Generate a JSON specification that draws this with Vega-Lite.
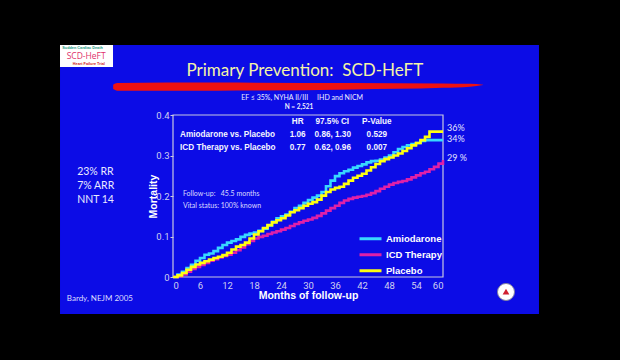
{
  "$schema": "https://vega.github.io/schema/vega-lite/v6.json",
  "width": 270,
  "height": 162,
  "autosize": {"type": "none"},
  "padding": {"left": 173, "top": 115, "right": 177, "bottom": 83},
  "background": "black",
  "config": {
    "view": {"stroke": null, "fill": null},
    "text": {"font": "Liberation Sans"}
  },
  "datasets": {
    "curves": [
      {"month": 0, "mortality": 0, "group": "Amiodarone"},
      {"month": 1, "mortality": 0.006, "group": "Amiodarone"},
      {"month": 2, "mortality": 0.013, "group": "Amiodarone"},
      {"month": 3, "mortality": 0.022, "group": "Amiodarone"},
      {"month": 4, "mortality": 0.03, "group": "Amiodarone"},
      {"month": 5, "mortality": 0.04, "group": "Amiodarone"},
      {"month": 6, "mortality": 0.047, "group": "Amiodarone"},
      {"month": 7, "mortality": 0.055, "group": "Amiodarone"},
      {"month": 8, "mortality": 0.058, "group": "Amiodarone"},
      {"month": 9, "mortality": 0.064, "group": "Amiodarone"},
      {"month": 10, "mortality": 0.072, "group": "Amiodarone"},
      {"month": 11, "mortality": 0.079, "group": "Amiodarone"},
      {"month": 12, "mortality": 0.085, "group": "Amiodarone"},
      {"month": 13, "mortality": 0.089, "group": "Amiodarone"},
      {"month": 14, "mortality": 0.093, "group": "Amiodarone"},
      {"month": 15, "mortality": 0.099, "group": "Amiodarone"},
      {"month": 16, "mortality": 0.104, "group": "Amiodarone"},
      {"month": 17, "mortality": 0.107, "group": "Amiodarone"},
      {"month": 18, "mortality": 0.11, "group": "Amiodarone"},
      {"month": 19, "mortality": 0.114, "group": "Amiodarone"},
      {"month": 20, "mortality": 0.119, "group": "Amiodarone"},
      {"month": 21, "mortality": 0.127, "group": "Amiodarone"},
      {"month": 22, "mortality": 0.136, "group": "Amiodarone"},
      {"month": 23, "mortality": 0.145, "group": "Amiodarone"},
      {"month": 24, "mortality": 0.15, "group": "Amiodarone"},
      {"month": 25, "mortality": 0.154, "group": "Amiodarone"},
      {"month": 26, "mortality": 0.161, "group": "Amiodarone"},
      {"month": 27, "mortality": 0.17, "group": "Amiodarone"},
      {"month": 28, "mortality": 0.176, "group": "Amiodarone"},
      {"month": 29, "mortality": 0.183, "group": "Amiodarone"},
      {"month": 30, "mortality": 0.19, "group": "Amiodarone"},
      {"month": 31, "mortality": 0.196, "group": "Amiodarone"},
      {"month": 32, "mortality": 0.201, "group": "Amiodarone"},
      {"month": 33, "mortality": 0.21, "group": "Amiodarone"},
      {"month": 34, "mortality": 0.224, "group": "Amiodarone"},
      {"month": 35, "mortality": 0.238, "group": "Amiodarone"},
      {"month": 36, "mortality": 0.249, "group": "Amiodarone"},
      {"month": 37, "mortality": 0.256, "group": "Amiodarone"},
      {"month": 38, "mortality": 0.261, "group": "Amiodarone"},
      {"month": 39, "mortality": 0.265, "group": "Amiodarone"},
      {"month": 40, "mortality": 0.27, "group": "Amiodarone"},
      {"month": 41, "mortality": 0.274, "group": "Amiodarone"},
      {"month": 42, "mortality": 0.278, "group": "Amiodarone"},
      {"month": 43, "mortality": 0.283, "group": "Amiodarone"},
      {"month": 44, "mortality": 0.286, "group": "Amiodarone"},
      {"month": 45, "mortality": 0.287, "group": "Amiodarone"},
      {"month": 46, "mortality": 0.29, "group": "Amiodarone"},
      {"month": 47, "mortality": 0.295, "group": "Amiodarone"},
      {"month": 48, "mortality": 0.3, "group": "Amiodarone"},
      {"month": 49, "mortality": 0.308, "group": "Amiodarone"},
      {"month": 50, "mortality": 0.316, "group": "Amiodarone"},
      {"month": 51, "mortality": 0.321, "group": "Amiodarone"},
      {"month": 52, "mortality": 0.325, "group": "Amiodarone"},
      {"month": 53, "mortality": 0.328, "group": "Amiodarone"},
      {"month": 54, "mortality": 0.331, "group": "Amiodarone"},
      {"month": 55, "mortality": 0.336, "group": "Amiodarone"},
      {"month": 56, "mortality": 0.338, "group": "Amiodarone"},
      {"month": 60, "mortality": 0.338, "group": "Amiodarone"},
      {"month": 0, "mortality": 0, "group": "ICD Therapy"},
      {"month": 1, "mortality": 0.002, "group": "ICD Therapy"},
      {"month": 2, "mortality": 0.006, "group": "ICD Therapy"},
      {"month": 3, "mortality": 0.013, "group": "ICD Therapy"},
      {"month": 4, "mortality": 0.02, "group": "ICD Therapy"},
      {"month": 5, "mortality": 0.025, "group": "ICD Therapy"},
      {"month": 6, "mortality": 0.03, "group": "ICD Therapy"},
      {"month": 7, "mortality": 0.035, "group": "ICD Therapy"},
      {"month": 8, "mortality": 0.04, "group": "ICD Therapy"},
      {"month": 9, "mortality": 0.044, "group": "ICD Therapy"},
      {"month": 10, "mortality": 0.048, "group": "ICD Therapy"},
      {"month": 11, "mortality": 0.052, "group": "ICD Therapy"},
      {"month": 12, "mortality": 0.055, "group": "ICD Therapy"},
      {"month": 13, "mortality": 0.06, "group": "ICD Therapy"},
      {"month": 14, "mortality": 0.066, "group": "ICD Therapy"},
      {"month": 15, "mortality": 0.073, "group": "ICD Therapy"},
      {"month": 16, "mortality": 0.081, "group": "ICD Therapy"},
      {"month": 17, "mortality": 0.089, "group": "ICD Therapy"},
      {"month": 18, "mortality": 0.095, "group": "ICD Therapy"},
      {"month": 19, "mortality": 0.099, "group": "ICD Therapy"},
      {"month": 20, "mortality": 0.102, "group": "ICD Therapy"},
      {"month": 21, "mortality": 0.106, "group": "ICD Therapy"},
      {"month": 22, "mortality": 0.11, "group": "ICD Therapy"},
      {"month": 23, "mortality": 0.113, "group": "ICD Therapy"},
      {"month": 24, "mortality": 0.117, "group": "ICD Therapy"},
      {"month": 25, "mortality": 0.121, "group": "ICD Therapy"},
      {"month": 26, "mortality": 0.126, "group": "ICD Therapy"},
      {"month": 27, "mortality": 0.131, "group": "ICD Therapy"},
      {"month": 28, "mortality": 0.135, "group": "ICD Therapy"},
      {"month": 29, "mortality": 0.139, "group": "ICD Therapy"},
      {"month": 30, "mortality": 0.142, "group": "ICD Therapy"},
      {"month": 31, "mortality": 0.146, "group": "ICD Therapy"},
      {"month": 32, "mortality": 0.151, "group": "ICD Therapy"},
      {"month": 33, "mortality": 0.157, "group": "ICD Therapy"},
      {"month": 34, "mortality": 0.164, "group": "ICD Therapy"},
      {"month": 35, "mortality": 0.17, "group": "ICD Therapy"},
      {"month": 36, "mortality": 0.176, "group": "ICD Therapy"},
      {"month": 37, "mortality": 0.183, "group": "ICD Therapy"},
      {"month": 38, "mortality": 0.189, "group": "ICD Therapy"},
      {"month": 39, "mortality": 0.193, "group": "ICD Therapy"},
      {"month": 40, "mortality": 0.196, "group": "ICD Therapy"},
      {"month": 41, "mortality": 0.198, "group": "ICD Therapy"},
      {"month": 42, "mortality": 0.2, "group": "ICD Therapy"},
      {"month": 43, "mortality": 0.203, "group": "ICD Therapy"},
      {"month": 44, "mortality": 0.207, "group": "ICD Therapy"},
      {"month": 45, "mortality": 0.212, "group": "ICD Therapy"},
      {"month": 46, "mortality": 0.218, "group": "ICD Therapy"},
      {"month": 47, "mortality": 0.223, "group": "ICD Therapy"},
      {"month": 48, "mortality": 0.228, "group": "ICD Therapy"},
      {"month": 49, "mortality": 0.232, "group": "ICD Therapy"},
      {"month": 50, "mortality": 0.235, "group": "ICD Therapy"},
      {"month": 51, "mortality": 0.237, "group": "ICD Therapy"},
      {"month": 52, "mortality": 0.241, "group": "ICD Therapy"},
      {"month": 53, "mortality": 0.246, "group": "ICD Therapy"},
      {"month": 54, "mortality": 0.251, "group": "ICD Therapy"},
      {"month": 55, "mortality": 0.256, "group": "ICD Therapy"},
      {"month": 56, "mortality": 0.26, "group": "ICD Therapy"},
      {"month": 57, "mortality": 0.266, "group": "ICD Therapy"},
      {"month": 58, "mortality": 0.272, "group": "ICD Therapy"},
      {"month": 59, "mortality": 0.28, "group": "ICD Therapy"},
      {"month": 60, "mortality": 0.289, "group": "ICD Therapy"},
      {"month": 0, "mortality": 0, "group": "Placebo"},
      {"month": 1, "mortality": 0.004, "group": "Placebo"},
      {"month": 2, "mortality": 0.01, "group": "Placebo"},
      {"month": 3, "mortality": 0.018, "group": "Placebo"},
      {"month": 4, "mortality": 0.025, "group": "Placebo"},
      {"month": 5, "mortality": 0.031, "group": "Placebo"},
      {"month": 6, "mortality": 0.035, "group": "Placebo"},
      {"month": 7, "mortality": 0.039, "group": "Placebo"},
      {"month": 8, "mortality": 0.043, "group": "Placebo"},
      {"month": 9, "mortality": 0.047, "group": "Placebo"},
      {"month": 10, "mortality": 0.05, "group": "Placebo"},
      {"month": 11, "mortality": 0.054, "group": "Placebo"},
      {"month": 12, "mortality": 0.06, "group": "Placebo"},
      {"month": 13, "mortality": 0.068, "group": "Placebo"},
      {"month": 14, "mortality": 0.075, "group": "Placebo"},
      {"month": 15, "mortality": 0.079, "group": "Placebo"},
      {"month": 16, "mortality": 0.085, "group": "Placebo"},
      {"month": 17, "mortality": 0.095, "group": "Placebo"},
      {"month": 18, "mortality": 0.105, "group": "Placebo"},
      {"month": 19, "mortality": 0.113, "group": "Placebo"},
      {"month": 20, "mortality": 0.121, "group": "Placebo"},
      {"month": 21, "mortality": 0.128, "group": "Placebo"},
      {"month": 22, "mortality": 0.135, "group": "Placebo"},
      {"month": 23, "mortality": 0.14, "group": "Placebo"},
      {"month": 24, "mortality": 0.145, "group": "Placebo"},
      {"month": 25, "mortality": 0.152, "group": "Placebo"},
      {"month": 26, "mortality": 0.16, "group": "Placebo"},
      {"month": 27, "mortality": 0.165, "group": "Placebo"},
      {"month": 28, "mortality": 0.17, "group": "Placebo"},
      {"month": 29, "mortality": 0.176, "group": "Placebo"},
      {"month": 30, "mortality": 0.181, "group": "Placebo"},
      {"month": 31, "mortality": 0.185, "group": "Placebo"},
      {"month": 32, "mortality": 0.191, "group": "Placebo"},
      {"month": 33, "mortality": 0.201, "group": "Placebo"},
      {"month": 34, "mortality": 0.21, "group": "Placebo"},
      {"month": 35, "mortality": 0.216, "group": "Placebo"},
      {"month": 36, "mortality": 0.22, "group": "Placebo"},
      {"month": 37, "mortality": 0.223, "group": "Placebo"},
      {"month": 38, "mortality": 0.23, "group": "Placebo"},
      {"month": 39, "mortality": 0.238, "group": "Placebo"},
      {"month": 40, "mortality": 0.245, "group": "Placebo"},
      {"month": 41, "mortality": 0.25, "group": "Placebo"},
      {"month": 42, "mortality": 0.255, "group": "Placebo"},
      {"month": 43, "mortality": 0.263, "group": "Placebo"},
      {"month": 44, "mortality": 0.271, "group": "Placebo"},
      {"month": 45, "mortality": 0.279, "group": "Placebo"},
      {"month": 46, "mortality": 0.286, "group": "Placebo"},
      {"month": 47, "mortality": 0.291, "group": "Placebo"},
      {"month": 48, "mortality": 0.295, "group": "Placebo"},
      {"month": 49, "mortality": 0.3, "group": "Placebo"},
      {"month": 50, "mortality": 0.305, "group": "Placebo"},
      {"month": 51, "mortality": 0.311, "group": "Placebo"},
      {"month": 52, "mortality": 0.318, "group": "Placebo"},
      {"month": 53, "mortality": 0.325, "group": "Placebo"},
      {"month": 54, "mortality": 0.331, "group": "Placebo"},
      {"month": 55, "mortality": 0.338, "group": "Placebo"},
      {"month": 56, "mortality": 0.346, "group": "Placebo"},
      {"month": 57, "mortality": 0.359, "group": "Placebo"},
      {"month": 60, "mortality": 0.359, "group": "Placebo"}
    ]
  },
  "encoding": {
    "x": {"field": "month", "type": "quantitative", "scale": {"domain": [0, 60], "nice": false, "zero": false},
      "axis": {"title": "Months of follow-up", "values": [0, 6, 12, 18, 24, 30, 36, 42, 48, 54, 60], "grid": false, "domain": false, "ticks": false,
        "labelFont": "Roboto", "labelFontSize": 9.5, "labelColor": "#d0d0f0", "labelPadding": 3,
        "titleFont": "Liberation Sans", "titleFontWeight": "bold", "titleFontSize": 10.5, "titleColor": "white", "titlePadding": 1, "zindex": 1}},
    "y": {"field": "mortality", "type": "quantitative", "scale": {"domain": [0, 0.4], "nice": false, "zero": false},
      "axis": {"title": "Mortality", "values": [0, 0.1, 0.2, 0.3, 0.4], "format": ".1~f", "grid": false, "domain": false, "tickSize": 3, "tickColor": "#c8c8e0",
        "labelFont": "Roboto", "labelFontSize": 9.5, "labelColor": "#d0d0f0", "labelPadding": 1,
        "titleFont": "Liberation Sans", "titleFontWeight": "bold", "titleFontSize": 10.5, "titleColor": "white", "titlePadding": -3, "zindex": 1}}
  },
  "layer": [
    {
      "data": {"values": [{"month": -25.11, "month2": 81.33, "mortality": -0.0914, "mortality2": 0.5728}]},
      "mark": {"type": "rect", "fill": "#0c0ce6"},
      "encoding": {"x2": {"field": "month2"}, "y2": {"field": "mortality2"}}
    },
    {
      "data": {"values": [
        {"month": -13.3, "mortality": 0.475, "mortality2": 0.464},
        {"month": -12.4, "mortality": 0.479, "mortality2": 0.46},
        {"month": 10, "mortality": 0.48, "mortality2": 0.46},
        {"month": 40, "mortality": 0.479, "mortality2": 0.463},
        {"month": 60, "mortality": 0.478, "mortality2": 0.467},
        {"month": 66, "mortality": 0.477, "mortality2": 0.47},
        {"month": 68.9, "mortality": 0.475, "mortality2": 0.474}
      ]},
      "mark": {"type": "area", "fill": "#ee1111", "interpolate": "monotone"},
      "encoding": {"y2": {"field": "mortality2"}}
    },
    {
      "data": {"values": [{"month": -25.11, "month2": -13.33, "mortality": 0.5185, "mortality2": 0.5728}]},
      "mark": {"type": "rect", "fill": "white"},
      "encoding": {"x2": {"field": "month2"}, "y2": {"field": "mortality2"}}
    },
    {
      "data": {"values": [{"month": -20.1, "mortality": 0.5655, "label": "Sudden Cardiac Death"}]},
      "mark": {"type": "text", "fontSize": 3.8, "fontWeight": "bold", "color": "#1a9a80", "align": "center", "baseline": "middle"},
      "encoding": {"text": {"field": "label"}}
    },
    {
      "data": {"values": [{"month": -19.3, "mortality": 0.5465, "label": "SCD-HeFT"}]},
      "mark": {"type": "text", "font": "Open Sans", "fontSize": 8.5, "color": "#e0306a", "align": "center", "baseline": "middle"},
      "encoding": {"text": {"field": "label"}}
    },
    {
      "data": {"values": [{"month": -18.7, "mortality": 0.5255, "label": "Heart Failure Trial"}]},
      "mark": {"type": "text", "fontSize": 3.8, "fontWeight": "bold", "color": "#d02020", "align": "center", "baseline": "middle"},
      "encoding": {"text": {"field": "label"}}
    },
    {
      "data": {"values": [{"month": 29.3, "mortality": 0.496, "label": "Primary Prevention:\u00a0\u00a0SCD-HeFT"}]},
      "mark": {"type": "text", "font": "Lato", "fontSize": 17, "color": "#f4f4a6", "align": "center", "baseline": "alphabetic"},
      "encoding": {"text": {"field": "label"}}
    },
    {
      "data": {"values": [{"month": 28.7, "mortality": 0.4415, "label": "EF \u2264 35%, NYHA II/III\u00a0\u00a0\u00a0\u00a0\u00a0IHD and NICM"}]},
      "mark": {"type": "text", "font": "Lato", "fontSize": 7, "color": "#f0f0ff", "align": "center", "baseline": "middle"},
      "encoding": {"text": {"field": "label"}}
    },
    {
      "data": {"values": [{"month": 28, "mortality": 0.4195, "label": "N = 2,521"}]},
      "mark": {"type": "text", "font": "Lato", "fontSize": 6.5, "fontWeight": "bold", "color": "#f0f0ff", "align": "center", "baseline": "middle"},
      "encoding": {"text": {"field": "label"}}
    },
    {
      "data": {"values": [
        {"month": -21.3, "mortality": 0.259, "label": "23% RR"},
        {"month": -21.3, "mortality": 0.224, "label": "7% ARR"},
        {"month": -21.3, "mortality": 0.19, "label": "NNT 14"}
      ]},
      "mark": {"type": "text", "font": "Lato", "fontSize": 10.5, "color": "#eaeaff", "align": "left", "baseline": "middle"},
      "encoding": {"text": {"field": "label"}}
    },
    {
      "data": {"values": [{"month": -23.6, "mortality": -0.054, "label": "Bardy, NEJM 2005"}]},
      "mark": {"type": "text", "font": "Lato", "fontSize": 8, "color": "#dcdcff", "align": "left", "baseline": "middle"},
      "encoding": {"text": {"field": "label"}}
    },
    {
      "data": {"values": [{"month": 0, "month2": 60, "mortality": 0, "mortality2": 0.4}]},
      "mark": {"type": "rect", "fill": null, "stroke": "#c8c8e0", "strokeWidth": 1.2},
      "encoding": {"x2": {"field": "month2"}, "y2": {"field": "mortality2"}}
    },
    {
      "data": {"values": [
        {"month": 27.7, "mortality": 0.382, "label": "HR"},
        {"month": 35.4, "mortality": 0.382, "label": "97.5% CI"},
        {"month": 45.3, "mortality": 0.382, "label": "P-Value"},
        {"month": 27.7, "mortality": 0.351, "label": "1.06"},
        {"month": 35.5, "mortality": 0.351, "label": "0.86, 1.30"},
        {"month": 45.3, "mortality": 0.351, "label": "0.529"},
        {"month": 27.7, "mortality": 0.318, "label": "0.77"},
        {"month": 35.5, "mortality": 0.318, "label": "0.62, 0.96"},
        {"month": 45.3, "mortality": 0.318, "label": "0.007"}
      ]},
      "mark": {"type": "text", "fontSize": 8.2, "fontWeight": "bold", "color": "#f4f4ff", "align": "center", "baseline": "middle"},
      "encoding": {"text": {"field": "label"}}
    },
    {
      "data": {"values": [
        {"month": 1.56, "mortality": 0.351, "label": "Amiodarone vs. Placebo"},
        {"month": 1.56, "mortality": 0.318, "label": "ICD Therapy vs. Placebo"}
      ]},
      "mark": {"type": "text", "fontSize": 8.2, "fontWeight": "bold", "color": "#f4f4ff", "align": "left", "baseline": "middle"},
      "encoding": {"text": {"field": "label"}}
    },
    {
      "data": {"values": [
        {"month": 2.2, "mortality": 0.205, "label": "Follow-up:\u00a0\u00a0\u00a045.5 months"},
        {"month": 2.2, "mortality": 0.175, "label": "Vital status: 100% known"}
      ]},
      "mark": {"type": "text", "font": "Lato", "fontSize": 7, "color": "#dcdcff", "align": "left", "baseline": "middle"},
      "encoding": {"text": {"field": "label"}}
    },
    {
      "data": {"values": [
        {"month": 60.9, "mortality": 0.368, "label": "36%"},
        {"month": 60.9, "mortality": 0.341, "label": "34%"},
        {"month": 60.9, "mortality": 0.294, "label": "29 %"}
      ]},
      "mark": {"type": "text", "font": "Lato", "fontSize": 9, "color": "#e4e4ff", "align": "left", "baseline": "middle"},
      "encoding": {"text": {"field": "label"}}
    },
    {
      "data": {"values": [{"month": 74, "mortality": -0.037}]},
      "mark": {"type": "point", "filled": true, "fill": "white", "stroke": "#8080a0", "strokeWidth": 1, "size": 290, "opacity": 1}
    },
    {
      "data": {"values": [{"month": 74, "mortality": -0.036}]},
      "mark": {"type": "point", "shape": "triangle-up", "filled": true, "fill": "#d02030", "size": 45, "opacity": 1}
    },
    {
      "data": {"name": "curves"},
      "mark": {"type": "line", "interpolate": "step-after", "strokeWidth": 2.6},
      "encoding": {
        "color": {"field": "group", "type": "nominal",
          "scale": {"domain": ["Amiodarone", "ICD Therapy", "Placebo"], "range": ["#38d8ff", "#e020a8", "#ffff10"]},
          "legend": {"orient": "none", "legendX": 185, "legendY": 116, "title": null, "symbolType": "stroke", "symbolSize": 484, "symbolStrokeWidth": 3,
            "labelFont": "Liberation Sans", "labelFontSize": 9.5, "labelFontWeight": "bold", "labelColor": "white",
            "rowPadding": 0, "clipHeight": 15.5, "padding": 0, "labelOffset": 3, "zindex": 1}}
      }
    }
  ]
}
